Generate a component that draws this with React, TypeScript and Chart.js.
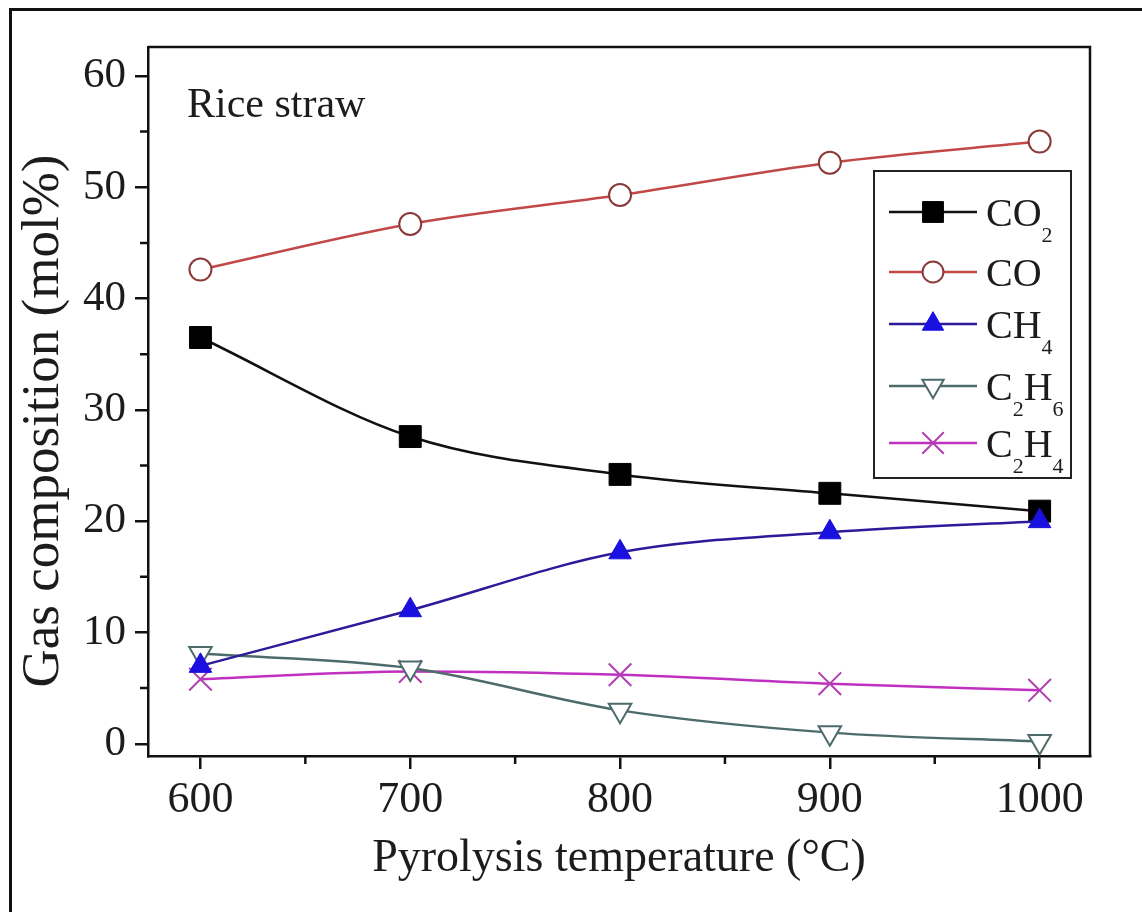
import React, { useEffect, useRef } from 'react';
import { Chart, registerables } from 'chart.js';

Chart.register(...registerables);

// ---- data ----
const temperatures = [600, 700, 800, 900, 1000];
const co2 = [36.5, 27.6, 24.2, 22.5, 20.9];
const co = [42.6, 46.7, 49.3, 52.2, 54.1];
const ch4 = [7.0, 12.0, 17.2, 19.0, 20.0];
const c2h6 = [8.1, 6.8, 3.0, 1.0, 0.2];
const c2h4 = [5.8, 6.5, 6.2, 5.4, 4.8];

const xMajorTicks = [600, 700, 800, 900, 1000];
const xMinorTicks = [650, 750, 850, 950];
const yMajorTicks = [0, 10, 20, 30, 40, 50, 60];
const yMinorTicks = [5, 15, 25, 35, 45, 55];

const seriesNames = ['CO2', 'CO', 'CH4', 'C2H6', 'C2H4'];
// legend label pieces: [text, isSubscript]
const legendLabels: [string, boolean][][] = [
  [['CO', false], ['2', true]],
  [['CO', false]],
  [['CH', false], ['4', true]],
  [['C', false], ['2', true], ['H', false], ['6', true]],
  [['C', false], ['2', true], ['H', false], ['4', true]],
];
const panelLabel = 'Rice straw';
const xTitle = 'Pyrolysis temperature (\u00B0C)';
const yTitle = 'Gas composition (mol%)';

const FONT = "'Liberation Serif', 'Times New Roman', serif";
const TEXT = '#1c1c1c';

type Style = {
  line: string;
  shape: string;
  radius: number;
  fill: string;
  stroke: string;
  bw: number;
  rot: number;
};

const styles: Style[] = [
  { line: '#111111', shape: 'rect', radius: 15.5, fill: '#000000', stroke: '#000000', bw: 1, rot: 0 },
  { line: '#c24848', shape: 'circle', radius: 11, fill: '#ffffff', stroke: '#8a3838', bw: 2, rot: 0 },
  { line: '#2b1b9a', shape: 'triangle', radius: 13, fill: '#1a10e0', stroke: '#1a10e0', bw: 1, rot: 0 },
  { line: '#4e6b6b', shape: 'triangle', radius: 13, fill: '#ffffff', stroke: '#4e6b6b', bw: 2, rot: 180 },
  { line: '#c030c0', shape: 'crossRot', radius: 16, fill: '#b040b0', stroke: '#b040b0', bw: 2, rot: 0 },
];

const seriesValues = [co2, co, ch4, c2h6, c2h4];

function drawMarker(ctx: CanvasRenderingContext2D, s: Style, x: number, y: number) {
  ctx.save();
  ctx.fillStyle = s.fill;
  ctx.strokeStyle = s.stroke;
  ctx.lineWidth = s.bw;
  ctx.beginPath();
  if (s.shape === 'rect') {
    const h = Math.SQRT1_2 * s.radius;
    ctx.rect(x - h, y - h, 2 * h, 2 * h);
    ctx.fill();
    ctx.stroke();
  } else if (s.shape === 'circle') {
    ctx.arc(x, y, s.radius, 0, Math.PI * 2);
    ctx.fill();
    ctx.stroke();
  } else if (s.shape === 'triangle') {
    let a = (s.rot * Math.PI) / 180;
    ctx.moveTo(x + Math.sin(a) * s.radius, y - Math.cos(a) * s.radius);
    a += (2 * Math.PI) / 3;
    ctx.lineTo(x + Math.sin(a) * s.radius, y - Math.cos(a) * s.radius);
    a += (2 * Math.PI) / 3;
    ctx.lineTo(x + Math.sin(a) * s.radius, y - Math.cos(a) * s.radius);
    ctx.closePath();
    ctx.fill();
    ctx.stroke();
  } else if (s.shape === 'crossRot') {
    const d = Math.cos(Math.PI / 4) * s.radius;
    ctx.moveTo(x - d, y - d);
    ctx.lineTo(x + d, y + d);
    ctx.moveTo(x - d, y + d);
    ctx.lineTo(x + d, y - d);
    ctx.stroke();
  }
  ctx.restore();
}

const decorPlugin = {
  id: 'decor',
  afterDraw(chart: any) {
    const ctx: CanvasRenderingContext2D = chart.ctx;
    const { left, right, top, bottom } = chart.chartArea;
    const xs = chart.scales.x;
    const ys = chart.scales.y;
    ctx.save();
    // outer figure frame
    ctx.strokeStyle = '#111';
    ctx.lineWidth = 3;
    ctx.beginPath();
    ctx.moveTo(10.5, 912);
    ctx.lineTo(10.5, 9.5);
    ctx.lineTo(1142, 9.5);
    ctx.stroke();
    // top & right of plot box
    ctx.lineWidth = 2.5;
    ctx.beginPath();
    ctx.moveTo(left, top);
    ctx.lineTo(right, top);
    ctx.lineTo(right, bottom);
    ctx.stroke();
    // minor ticks
    ctx.lineWidth = 2.5;
    ctx.beginPath();
    xMinorTicks.forEach((v) => {
      const px = xs.getPixelForValue(v);
      ctx.moveTo(px, bottom);
      ctx.lineTo(px, bottom + 8);
    });
    yMinorTicks.forEach((v) => {
      const py = ys.getPixelForValue(v);
      ctx.moveTo(left, py);
      ctx.lineTo(left - 8, py);
    });
    ctx.stroke();
    // y axis title
    ctx.fillStyle = TEXT;
    ctx.save();
    ctx.translate(44, 421);
    ctx.rotate(-Math.PI / 2);
    ctx.font = `53px ${FONT}`;
    ctx.textAlign = 'center';
    ctx.textBaseline = 'middle';
    ctx.fillText(yTitle, 0, 0);
    ctx.restore();
    // panel label
    ctx.font = `42px ${FONT}`;
    ctx.textBaseline = 'alphabetic';
    ctx.textAlign = 'left';
    ctx.fillText(panelLabel, 187, 117);
    // legend box
    const bx = 874, by = 171, bw = 197, bh = 307;
    ctx.lineWidth = 2;
    ctx.strokeStyle = '#222';
    ctx.strokeRect(bx, by, bw, bh);
    const rowYs = [212, 272, 324, 386, 443];
    styles.forEach((s, i) => {
      const ry = rowYs[i];
      ctx.strokeStyle = s.line;
      ctx.lineWidth = 2.5;
      ctx.beginPath();
      ctx.moveTo(889, ry);
      ctx.lineTo(977, ry);
      ctx.stroke();
      drawMarker(ctx, { ...s, radius: s.radius * 0.95 }, 933, ry);
      let tx = 986;
      ctx.fillStyle = TEXT;
      legendLabels[i].forEach(([t, sub]) => {
        if (sub) {
          ctx.font = `22px ${FONT}`;
          ctx.fillText(t, tx, ry + 30);
        } else {
          ctx.font = `40px ${FONT}`;
          ctx.fillText(t, tx, ry + 14);
        }
        tx += ctx.measureText(t).width;
      });
    });
    ctx.restore();
  },
};

export default function App() {
  const ref = useRef<HTMLCanvasElement>(null);
  useEffect(() => {
    const canvas = ref.current!;
    const datasets = seriesNames.map((name, i) => {
      const s = styles[i];
      return {
        label: name,
        data: temperatures.map((t, j) => ({ x: t, y: seriesValues[i][j] })),
        borderColor: s.line,
        borderWidth: 2.5,
        backgroundColor: s.fill,
        pointStyle: s.shape,
        pointRadius: s.radius,
        pointRotation: s.rot,
        pointBackgroundColor: s.fill,
        pointBorderColor: s.stroke,
        pointBorderWidth: s.bw,
        cubicInterpolationMode: 'monotone',
        fill: false,
        clip: false,
        order: i === 2 ? 0 : i + 1,
      };
    });
    const chart = new Chart(canvas, {
      type: 'line',
      data: { datasets } as any,
      options: {
        animation: false,
        responsive: false,
        devicePixelRatio: 1,
        layout: { padding: { left: 0, top: 47, right: 52, bottom: 0 } },
        plugins: { legend: { display: false }, tooltip: { enabled: false } },
        scales: {
          x: {
            type: 'linear',
            min: 575,
            max: 1024,
            position: 'bottom',
            afterBuildTicks: (s: any) => {
              s.ticks = xMajorTicks.map((v) => ({ value: v }));
            },
            afterFit: (s: any) => {
              s.height = 156;
            },
            grid: { display: true, drawOnChartArea: false, drawTicks: true, tickLength: 13, color: '#111', lineWidth: 2.5 },
            border: { display: true, color: '#111', width: 2.5 },
            ticks: {
              font: { family: FONT, size: 44 },
              color: TEXT,
              padding: 5,
              maxRotation: 0,
              autoSkip: false,
              callback: (v: any) => String(v),
            },
            title: { display: true, text: xTitle, font: { family: FONT, size: 46 }, color: TEXT, padding: { top: 0, bottom: 25 } },
          },
          y: {
            type: 'linear',
            min: -1.1,
            max: 62.6,
            position: 'left',
            afterBuildTicks: (s: any) => {
              s.ticks = yMajorTicks.map((v) => ({ value: v }));
            },
            afterFit: (s: any) => {
              s.width = 148;
            },
            grid: { display: true, drawOnChartArea: false, drawTicks: true, tickLength: 13, color: '#111', lineWidth: 2.5 },
            border: { display: true, color: '#111', width: 2.5 },
            ticks: { font: { family: FONT, size: 43 }, color: TEXT, padding: 9, autoSkip: false, callback: (v: any) => String(v) },
            title: { display: false, text: yTitle },
          },
        },
      } as any,
      plugins: [decorPlugin],
    });
    return () => chart.destroy();
  }, []);
  return (
    <div style={{ position: 'absolute', left: 0, top: 0, width: 1142, height: 912, background: '#fff' }}>
      <canvas ref={ref} width={1142} height={912} style={{ display: 'block', width: 1142, height: 912 }} />
    </div>
  );
}
